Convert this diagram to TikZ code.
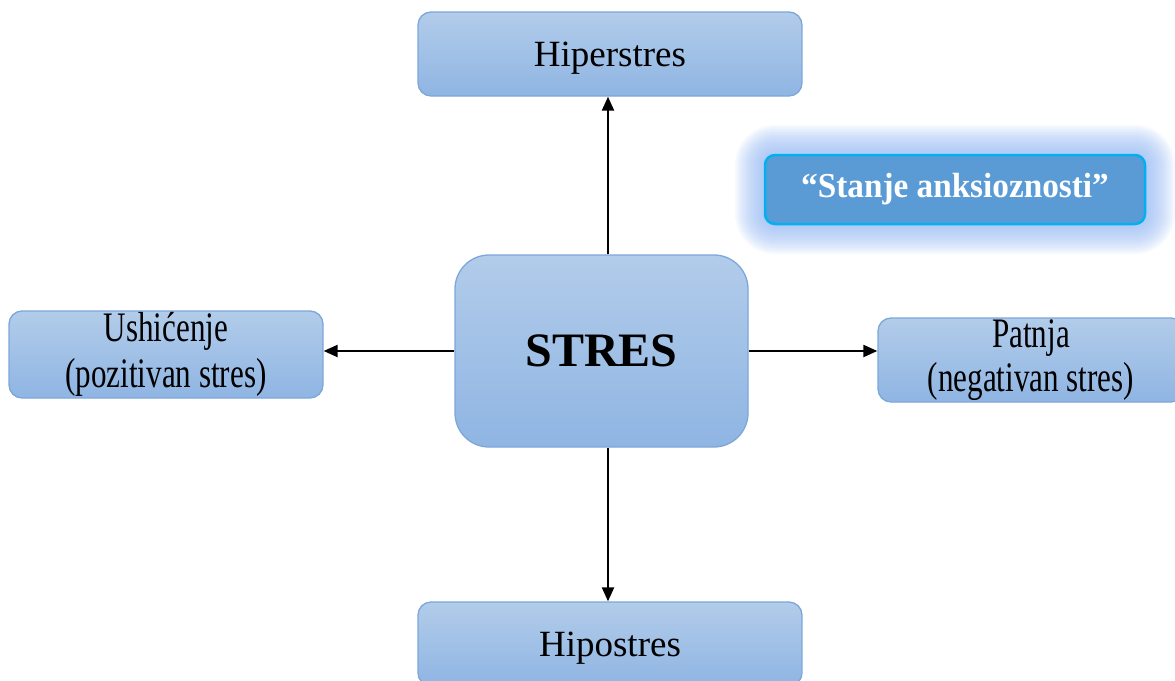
\documentclass[tikz,border=0pt]{standalone}
\usepackage{fontspec}
\setmainfont{Liberation Serif}
\newfontfamily\narrowserif[FakeStretch=0.74]{Liberation Serif}
\newfontfamily\anxserif[FakeStretch=0.95]{Liberation Serif}
\usetikzlibrary{arrows.meta}
\definecolor{boxtop}{RGB}{178,204,234}
\definecolor{boxbot}{RGB}{143,181,227}
\definecolor{boxline}{RGB}{125,167,217}
\definecolor{anxfill}{RGB}{91,155,213}
\definecolor{anxline}{RGB}{0,176,240}
\definecolor{glow}{RGB}{150,185,243}
\tikzset{
  bluebox/.style={rectangle, rounded corners=13pt, draw=boxline, line width=1.3pt,
    top color=boxtop, bottom color=boxbot, inner sep=0pt, align=center, text=black},
  arr/.style={-{Triangle[length=14pt,width=12pt]}, line width=2.2pt, black},
}
\begin{document}
\begin{tikzpicture}[x=1pt,y=-1pt]
\useasboundingbox (0,0) rectangle (1175,680);
% glow
\foreach \d in {30,28,...,2}{
  \fill[glow, fill opacity=0.085, rounded corners={10pt+\d pt}] (765-\d,155-\d) rectangle (1145+\d,224+\d);
}
\node[bluebox, minimum width=384pt, minimum height=84pt,
  font=\fontsize{37}{42}\selectfont, text depth=0pt] (hiper) at (610,54) {Hiperstres};
\node[bluebox, rounded corners=34pt, minimum width=293pt, minimum height=192pt,
  font=\fontsize{48}{54}\selectfont\bfseries] (stres) at (601.5,351) {STRES};
\node[bluebox, minimum width=314pt, minimum height=87pt,
  font=\fontsize{42}{46}\selectfont\narrowserif] (ushi) at (166,354.5)
  {Ushićenje\\ (pozitivan stres)};
\node[bluebox, minimum width=306pt, minimum height=84pt,
  font=\fontsize{42}{44}\selectfont\narrowserif] (patnja) at (1031,360)
  {Patnja\\ (negativan stres)};
\node[bluebox, minimum width=384pt, minimum height=84pt,
  font=\fontsize{37}{42}\selectfont, text depth=0pt] (hipo) at (610,644) {Hipostres};
\node[rectangle, rounded corners=10pt, draw=anxline, line width=2.5pt, fill=anxfill,
  minimum width=380pt, minimum height=69pt, text=white,
  font=\fontsize{35}{40}\selectfont\anxserif\bfseries] (anx) at (955,189.5)
  {\raisebox{-2pt}{“Stanje anksioznosti”}};
% connectors
\draw[arr] ([xshift=-2pt]stres.north -| hiper.south) -- ([xshift=-2pt]hiper.south);
\draw[arr] ([xshift=-2pt]stres.south -| hipo.north) -- ([xshift=-2pt]hipo.north);
\draw[arr] (stres.west) -- (ushi.east |- stres.west);
\draw[arr] (stres.east) -- (patnja.west |- stres.east);
\end{tikzpicture}
\end{document}
